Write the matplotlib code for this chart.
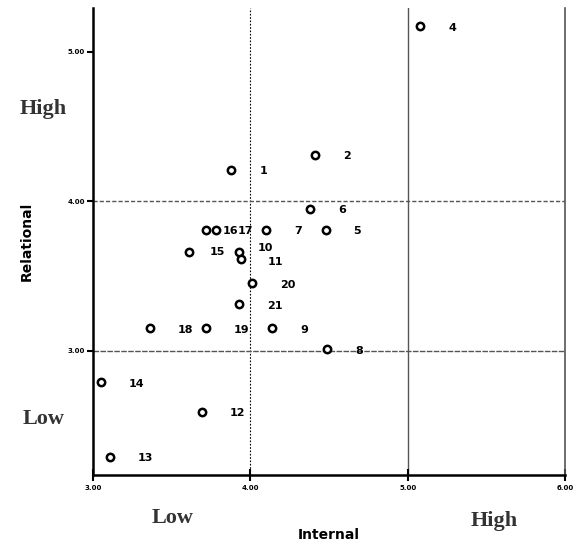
import numpy as np
import matplotlib.pyplot as plt

ids = ['1', '2', '4', '5', '6', '7', '8', '9', '10', '11', '12', '13', '14',
       '15', '16', '17', '18', '19', '20', '21']
internal = [3.88, 4.41, 5.08, 4.48, 4.38, 4.10, 4.49, 4.14, 3.93, 3.94, 3.69,
            3.11, 3.05, 3.61, 3.72, 3.78, 3.36, 3.72, 4.01, 3.93]
relational = [4.21, 4.31, 5.17, 3.81, 3.95, 3.81, 3.01, 3.15, 3.66, 3.61, 2.59,
              2.29, 2.79, 3.66, 3.81, 3.81, 3.15, 3.15, 3.45, 3.31]
# label offsets (points), a few are shifted by hand where they crowd in the original
lab_dx = {'10': 13, '11': 19, '15': 15, '16': 12, '17': 16}
lab_dy = {'10': 3, '11': -2, '15': 0, '16': -1, '17': -1}

xticks = [3, 4, 5, 6]
yticks = [3, 4, 5]

fig = plt.figure(figsize=(5.78, 5.44), dpi=100)
ax = fig.add_axes([0.161, 0.127, 0.8165, 0.858])

ax.axvline(4, color='k', lw=0.8, ls=(0, (1.5, 1.5)), zorder=1)
ax.axvline(5, color='#555555', lw=1.0, zorder=1)
ax.axhline(4, color='#555555', lw=1.0, ls=(0, (3, 1.5)), zorder=1)
ax.axhline(3, color='#555555', lw=1.0, ls=(0, (4, 1)), zorder=1)

ax.scatter(internal, relational, s=28, facecolors='white', edgecolors='black',
           linewidths=1.8, zorder=3)
for i, x, y in zip(ids, internal, relational):
    ax.annotate(i, (x, y), xytext=(lab_dx.get(i, 20), lab_dy.get(i, -1)),
                textcoords='offset points', va='center', ha='left',
                fontsize=8, fontweight='bold', zorder=4)

ax.set_xlim(3, 6)
ax.set_ylim(2.17, 5.29)
ax.set_xticks(xticks)
ax.set_yticks(yticks)
ax.set_xticklabels(['%.2f' % v for v in xticks], fontsize=5, fontweight='bold')
ax.set_yticklabels(['%.2f' % v for v in yticks], fontsize=5, fontweight='bold')
ax.tick_params(axis='x', direction='inout', length=8, width=1.5, pad=3)
ax.tick_params(axis='y', direction='out', length=4, width=1.5, pad=2)

ax.spines['top'].set_visible(False)
ax.spines['left'].set_linewidth(1.8)
ax.spines['bottom'].set_linewidth(1.8)
ax.spines['right'].set_color('#555555')
ax.spines['right'].set_linewidth(1.2)

ax.set_xlabel('Internal', fontsize=10, fontweight='bold', labelpad=27)
ax.set_ylabel('Relational', fontsize=10, fontweight='bold', labelpad=24)

serif = dict(family='Liberation Serif', fontsize=16, fontweight='bold', color='#333333')
fig.text(0.075, 0.80, 'High', ha='center', va='center', **serif)
fig.text(0.075, 0.23, 'Low', ha='center', va='center', **serif)
fig.text(0.298, 0.047, 'Low', ha='center', va='center', **serif)
fig.text(0.855, 0.043, 'High', ha='center', va='center', **serif)

fig.savefig('out.png', dpi=100)
